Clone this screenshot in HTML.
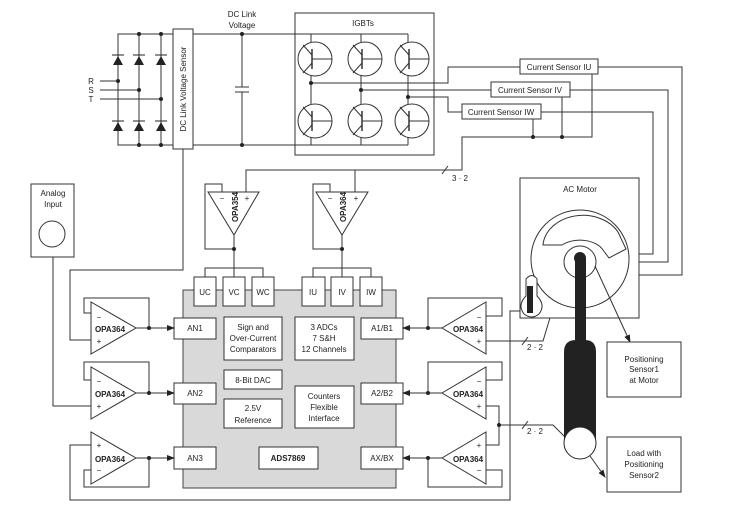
<!DOCTYPE html>
<html><head><meta charset="utf-8"><style>
html,body{margin:0;padding:0;background:#fff;}
svg{display:block;font-family:"Liberation Sans",Arial,sans-serif;}
</style></head><body>
<svg width="745" height="509" viewBox="0 0 745 509" xmlns="http://www.w3.org/2000/svg">
<defs>
<marker id="a" markerWidth="8" markerHeight="6" refX="7" refY="3" orient="auto" markerUnits="userSpaceOnUse"><path d="M0,0 L8,3 L0,6 z" fill="#222"/></marker>
<g id="q"><circle r="17" fill="#fff" stroke="#333"/><line x1="-3" y1="-10" x2="-3" y2="10" stroke="#333" stroke-width="1.5"/><line x1="-3" y1="-4" x2="-12" y2="-14" stroke="#333"/><line x1="-3" y1="4" x2="-12" y2="14" stroke="#333"/><line x1="-3" y1="0" x2="17" y2="0" stroke="#333"/></g>
<g id="d"><path d="M-5,5 L5,5 L0,-4 z" fill="#222"/><line x1="-6" y1="-5" x2="6" y2="-5" stroke="#222"/></g>
</defs>
<g fill="none" stroke="#333" stroke-width="1">
<polyline points="173,34 118,34 118,145 173,145"/>
<line x1="139" y1="34" x2="139" y2="145"/><line x1="161" y1="34" x2="161" y2="145"/>
<line x1="100" y1="81" x2="118" y2="81"/><line x1="100" y1="90" x2="139" y2="90"/><line x1="100" y1="99" x2="161" y2="99"/>
<rect x="173" y="29" width="20" height="120" fill="#fff"/>
<line x1="193" y1="34" x2="408" y2="34"/><line x1="193" y1="145" x2="408" y2="145"/>
<line x1="242" y1="34" x2="242" y2="87"/><line x1="242" y1="92" x2="242" y2="145"/>
<line x1="235" y1="87" x2="249" y2="87"/><line x1="235" y1="92" x2="249" y2="92"/>
<rect x="295" y="13" width="139" height="142"/>
<line x1="311" y1="34" x2="311" y2="145"/><line x1="361" y1="34" x2="361" y2="145"/><line x1="408" y1="34" x2="408" y2="145"/>
<polyline points="311,83 448,83 448,67 520,67"/>
<line x1="361" y1="90" x2="491" y2="90"/>
<polyline points="408,97 448,97 448,112 462,112"/>
<polyline points="598,67 682,67 682,275 639,275"/>
<polyline points="570,90 668,90 668,262 639,262"/>
<polyline points="541,112 653,112 653,254 639,254"/>
<polyline points="592,74 592,137 462,137 462,170 246,170 246,192"/>
<line x1="562" y1="97" x2="562" y2="137"/><line x1="533" y1="119" x2="533" y2="137"/>
<line x1="355" y1="170" x2="355" y2="192"/>
<line x1="442" y1="174" x2="448" y2="166"/>
<polyline points="183,149 183,270 70,270 70,340 91,340"/>
<rect x="31" y="184" width="43" height="73"/>
<circle cx="52" cy="234" r="13"/>
<polyline points="53,257 53,406 91,406"/>
<path d="M208,192 L259,192 L234,235 z" fill="#fff"/>
<polyline points="222,192 222,184 205,184 205,249 234,249"/>
<polyline points="234,235 234,277"/>
<polyline points="205,277 205,268 263,268 263,277"/>
<path d="M316,192 L368,192 L342,235 z" fill="#fff"/>
<polyline points="330,192 330,184 313,184 313,249 342,249"/>
<polyline points="342,235 342,277"/>
<polyline points="313,277 313,268 371,268 371,277"/>
<rect x="183" y="290" width="213" height="198" fill="#d9d9d9" stroke="#444"/>
<g fill="#fff">
<rect x="194" y="277" width="22" height="29"/><rect x="223" y="277" width="22" height="29"/><rect x="252" y="277" width="22" height="29"/>
<rect x="302" y="277" width="23" height="29"/><rect x="331" y="277" width="22" height="29"/><rect x="360" y="277" width="22" height="29"/>
<rect x="224" y="317" width="58" height="43"/><rect x="295" y="317" width="59" height="43"/>
<rect x="224" y="370" width="58" height="19"/><rect x="224" y="399" width="58" height="29"/>
<rect x="295" y="386" width="59" height="42"/><rect x="259" y="447" width="59" height="22"/>
<rect x="174" y="318" width="42" height="21"/><rect x="174" y="383" width="42" height="21"/><rect x="174" y="447" width="42" height="22"/>
<rect x="361" y="318" width="42" height="21"/><rect x="361" y="383" width="42" height="21"/><rect x="361" y="447" width="42" height="22"/>
</g>
<path d="M91,302 L91,354 L136,328 z" fill="#fff"/>
<polyline points="91,313 84,313 84,298 149,298 149,328"/>
<line x1="136" y1="328" x2="174" y2="328" marker-end="url(#a)"/>
<path d="M91,367 L91,419 L136,393 z" fill="#fff"/>
<polyline points="91,380 84,380 84,362 149,362 149,393"/>
<line x1="136" y1="393" x2="174" y2="393" marker-end="url(#a)"/>
<path d="M91,432 L91,484 L136,458 z" fill="#fff"/>
<polyline points="91,470 84,470 84,487 149,487 149,458"/>
<line x1="136" y1="458" x2="174" y2="458" marker-end="url(#a)"/>
<polyline points="91,445 70,445 70,500 510,500 510,311 520,311"/>
<path d="M486,302 L486,354 L442,328 z" fill="#fff"/>
<polyline points="486,316 502,316 502,298 428,298 428,328"/>
<line x1="442" y1="328" x2="403" y2="328" marker-end="url(#a)"/>
<polyline points="486,341 543,341 565,268"/>
<line x1="522" y1="345" x2="528" y2="337"/>
<path d="M486,367 L486,419 L442,393 z" fill="#fff"/>
<polyline points="486,380 502,380 502,362 428,362 428,393"/>
<line x1="442" y1="393" x2="403" y2="393" marker-end="url(#a)"/>
<path d="M486,432 L486,484 L442,458 z" fill="#fff"/>
<polyline points="486,470 502,470 502,487 428,487 428,458"/>
<line x1="442" y1="458" x2="403" y2="458" marker-end="url(#a)"/>
<polyline points="486,406 499,406 499,445 486,445"/>
<polyline points="499,425 553,425 566,438"/>
<line x1="522" y1="429" x2="528" y2="421"/>
<rect x="520" y="178" width="119" height="140" fill="#fff"/>
<circle cx="580" cy="259" r="49"/>
<path d="M543,245 A40,32 0 0 1 618,232 L626,249 L609,258 L603,250 A25,16 0 0 0 562,245 z" fill="#fff"/>
<circle cx="580" cy="262" r="16" fill="#fff"/>
<line x1="595" y1="266" x2="630" y2="342" marker-end="url(#a)"/>
<path d="M526,279 Q532,272 537,279 L537,296 Q546,305 539,314 Q532,320 524,314 Q517,305 526,296 z" fill="#fff"/>
</g>
<g fill="#222">
<circle cx="139" cy="34" r="2"/><circle cx="161" cy="34" r="2"/><circle cx="139" cy="145" r="2"/><circle cx="161" cy="145" r="2"/>
<circle cx="118" cy="81" r="2"/><circle cx="139" cy="90" r="2"/><circle cx="161" cy="99" r="2"/>
<circle cx="242" cy="34" r="2"/><circle cx="242" cy="145" r="2"/>
<circle cx="311" cy="83" r="2"/><circle cx="361" cy="90" r="2"/><circle cx="408" cy="97" r="2"/>
<circle cx="562" cy="137" r="2"/><circle cx="533" cy="137" r="2"/>
<circle cx="234" cy="249" r="2"/><circle cx="342" cy="249" r="2"/>
<circle cx="149" cy="328" r="2"/><circle cx="149" cy="393" r="2"/><circle cx="149" cy="458" r="2"/>
<circle cx="428" cy="328" r="2"/><circle cx="428" cy="393" r="2"/><circle cx="428" cy="458" r="2"/>
<circle cx="499" cy="425" r="2"/>
<rect x="527" y="286" width="6" height="27"/>
<rect x="575" y="258" width="11" height="90"/>
<circle cx="580" cy="258" r="6"/>
<path d="M564,352 Q564,340 576,340 L585,340 Q596,340 596,352 L596,443 L564,443 z"/>
</g>
<circle cx="580" cy="443" r="16" fill="#fff" stroke="#222"/>
<line x1="590" y1="456" x2="605" y2="477" stroke="#333" marker-end="url(#a)"/>
<g fill="#fff" stroke="#333">
<rect x="607" y="342" width="74" height="55"/><rect x="607" y="437" width="74" height="55"/>
<rect x="520" y="59" width="78" height="15"/><rect x="491" y="82" width="79" height="15"/><rect x="462" y="104" width="79" height="15"/>
</g>
<g transform="translate(118,60)"><use href="#d"/></g><g transform="translate(139,60)"><use href="#d"/></g><g transform="translate(161,60)"><use href="#d"/></g>
<g transform="translate(118,126)"><use href="#d"/></g><g transform="translate(139,126)"><use href="#d"/></g><g transform="translate(161,126)"><use href="#d"/></g>
<use href="#q" x="315" y="59"/><use href="#q" x="365" y="59"/><use href="#q" x="412" y="59"/>
<use href="#q" x="315" y="121"/><use href="#q" x="365" y="121"/><use href="#q" x="412" y="121"/>
<g font-size="8" fill="#222" text-anchor="middle">
<text x="91" y="84">R</text><text x="91" y="93">S</text><text x="91" y="102">T</text>
<text transform="translate(186,89) rotate(-90)">DC Link Voltage Sensor</text>
<text x="242" y="17">DC Link</text><text x="242" y="28">Voltage</text>
<text x="363" y="26">IGBTs</text>
<text x="559" y="70">Current Sensor IU</text><text x="530" y="93">Current Sensor IV</text><text x="501" y="115">Current Sensor IW</text>
<text x="460" y="181">3 · 2</text>
<text x="53" y="196">Analog</text><text x="53" y="207">Input</text>
<text x="580" y="192">AC Motor</text>
<text x="535" y="350">2 · 2</text><text x="535" y="434">2 · 2</text>
<text x="644" y="362">Positioning</text><text x="644" y="372">Sensor1</text><text x="644" y="383">at Motor</text>
<text x="644" y="456">Load with</text><text x="644" y="467">Positioning</text><text x="644" y="478">Sensor2</text>
<text x="205" y="295">UC</text><text x="234" y="295">VC</text><text x="263" y="295">WC</text>
<text x="313" y="295">IU</text><text x="342" y="295">IV</text><text x="371" y="295">IW</text>
<text x="253" y="330">Sign and</text><text x="253" y="341">Over-Current</text><text x="253" y="352">Comparators</text>
<text x="324" y="330">3 ADCs</text><text x="324" y="341">7 S&amp;H</text><text x="324" y="352">12 Channels</text>
<text x="253" y="383">8-Bit DAC</text>
<text x="253" y="411">2.5V</text><text x="253" y="423">Reference</text>
<text x="324" y="399">Counters</text><text x="324" y="410">Flexible</text><text x="324" y="421">Interface</text>
<text x="288" y="461" font-weight="bold">ADS7869</text>
<text x="195" y="331">AN1</text><text x="195" y="396">AN2</text><text x="195" y="461">AN3</text>
<text x="382" y="331">A1/B1</text><text x="382" y="396">A2/B2</text><text x="382" y="461">AX/BX</text>
<g font-weight="bold">
<text x="110" y="332">OPA364</text><text x="110" y="397">OPA364</text><text x="110" y="462">OPA364</text>
<text x="468" y="332">OPA364</text><text x="468" y="397">OPA364</text><text x="468" y="462">OPA364</text>
<text transform="translate(238,207) rotate(-90)">OPA354</text>
<text transform="translate(346,207) rotate(-90)">OPA364</text>
</g>
<text x="99" y="320">−</text><text x="99" y="344">+</text>
<text x="99" y="384">−</text><text x="99" y="409">+</text>
<text x="99" y="448">+</text><text x="99" y="473">−</text>
<text x="479" y="320">−</text><text x="479" y="344">+</text>
<text x="479" y="384">−</text><text x="479" y="409">+</text>
<text x="479" y="448">+</text><text x="479" y="473">−</text>
<text x="222" y="201">−</text><text x="247" y="201">+</text>
<text x="330" y="201">−</text><text x="356" y="201">+</text>
</g>
</svg>
</body></html>
